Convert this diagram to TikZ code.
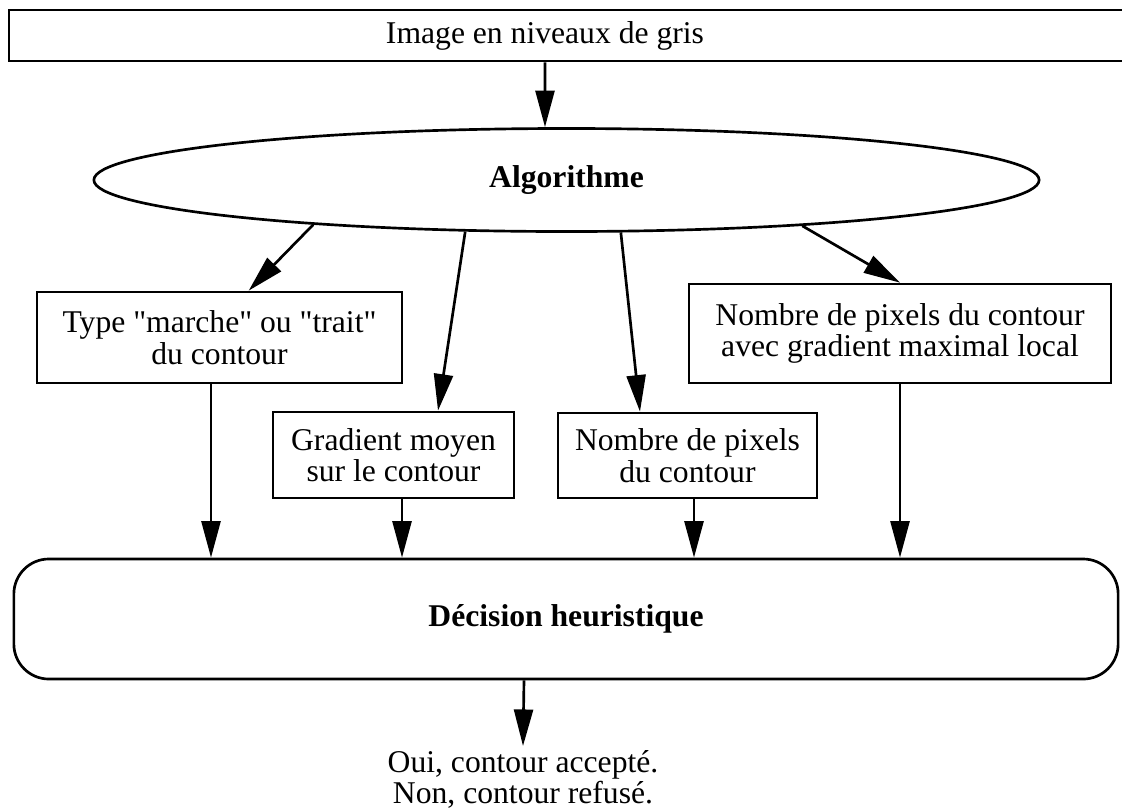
\documentclass[tikz,border=0pt]{standalone}
\usepackage{fontspec}
\setmainfont{Liberation Serif}
\usepackage{tikz}
\usetikzlibrary{shapes,arrows,arrows.meta,positioning,calc}

\begin{document}
\begin{tikzpicture}[x=0.025cm, y=-0.025cm,
    boite/.style={draw, line width=1.9pt, rectangle, inner sep=0pt, font=\fontsize{22.5pt}{22.5pt}\selectfont},
    fleche/.style={-{Triangle[length=26pt,width=13.5pt]}, line width=1.9pt},
    texte/.style={inner sep=0pt, align=center, font=\fontsize{22.5pt}{22pt}\selectfont}]
    %Cadre de l'image (en pixels de la figure d'origine)%
    %===========================================================
    \useasboundingbox (0,0) rectangle (1122,811);
    \def \Decal {0.7375cm}; %decalage du texte dans le cadre du haut
    %Noeuds%
    %===========================================================
    \node[boite, minimum width=28.275cm, minimum height=1.275cm] (image) at (574.5,35.5) {\hspace*{-1.475cm}Image en niveaux de gris};
    \node[draw, ellipse, line width=1.9pt, inner sep=0pt, minimum width=23.625cm, minimum height=2.575cm, font=\fontsize{22.5pt}{22.5pt}\selectfont\bfseries] (algo) at (566.5,180) {Algorithme};
    \node[boite, align=center, minimum width=9.125cm, minimum height=2.275cm] (type) at (219.5,337.5) {Type \textquotedbl marche\textquotedbl{} ou \textquotedbl trait\textquotedbl\\du contour};
    \node[boite, align=center, minimum width=6.025cm, minimum height=2.15cm] (gradient) at (393.5,455) {Gradient moyen\\sur le contour};
    \node[boite, align=center, minimum width=6.475cm, minimum height=2.125cm] (nombre) at (687.5,455.5) {Nombre de pixels\\du contour};
    \node[boite, align=center, minimum width=10.55cm, minimum height=2.475cm] (maxlocal) at (900,333.5) {Nombre de pixels du contour\\avec gradient maximal local};
    \node[boite, rounded corners=0.875cm, minimum width=27.6cm, minimum height=3cm, font=\fontsize{22.5pt}{22.5pt}\selectfont\bfseries] (decision) at (566,619) {D\'ecision heuristique};
    \node[texte, anchor=north, inner ysep=3pt] (resultat) at (523,746) {Oui, contour accept\'e.\\Non, contour refus\'e.};
    %Fleches%
    %===========================================================
    \draw[fleche] ([xshift=-\Decal]image.south) -- ([xshift=-0.5375cm]algo.north);
    \draw[fleche] (algo.190) -- ([xshift=5.325cm]type.north west);
    \draw[fleche] (algo.207) -- ([xshift=1.1125cm]gradient.north);
    \draw[fleche] (algo.316) -- ([xshift=-1.1875cm]nombre.north);
    \draw[fleche] (algo.349) -- (maxlocal.north);
    \draw[fleche] ([xshift=-0.2125cm]type.south) -- ([xshift=-0.2125cm]type.south |- decision.north);
    \draw[fleche] ([xshift=0.2125cm]gradient.south) -- ([xshift=0.2125cm]gradient.south |- decision.north);
    \draw[fleche] ([xshift=0.1625cm]nombre.south) -- ([xshift=0.1625cm]nombre.south |- decision.north);
    \draw[fleche] (maxlocal.south) -- (maxlocal.south |- decision.north);
    \draw[fleche] ([xshift=-1.05cm]decision.south) -- (resultat.north);
\end{tikzpicture}
\end{document}
